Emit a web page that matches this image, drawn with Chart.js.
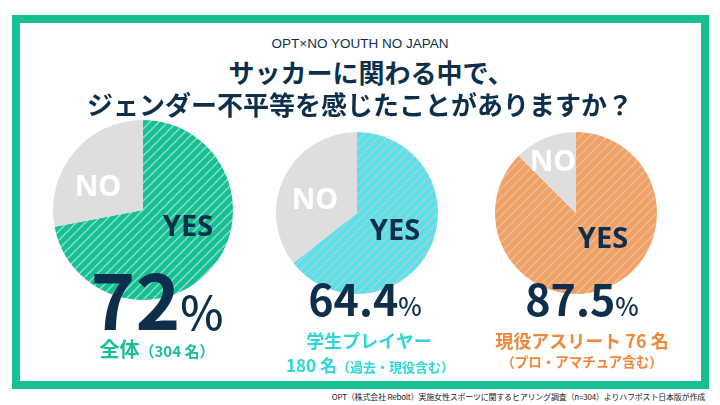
<!DOCTYPE html>
<html lang="ja">
<head>
<meta charset="utf-8">
<script src="https://cdn.jsdelivr.net/npm/chart.js@4.4.1/dist/chart.umd.min.js"></script>
<style>
  html, body { margin: 0; padding: 0; background: #fff; }
  #stage { position: relative; width: 720px; height: 405px; overflow: hidden; background: #fff;
    font-family: "Noto Sans CJK JP", "Noto Sans", sans-serif; color: #0e2f4c; }
  #frame { position: absolute; left: 12px; top: 15px; width: 681px; height: 358px; border: 8px solid #17bf94; }
  .t { position: absolute; white-space: nowrap; line-height: 1; }
  .c { transform: translate(-50%, -50%); }
  canvas { position: absolute; }
  #kicker { left: 360px; top: 44px; font-family: "Liberation Sans Narrow", "Liberation Sans", sans-serif; font-size: 13.5px; color: #0e2f4c; }
  .title { font-size: 26px; font-weight: 700; color: #0e2f4c; }
  .yes { font-size: 29px; font-weight: 700; color: #0e2f4c; font-family: "Noto Sans", "Noto Sans CJK JP", sans-serif; }
  .no { font-size: 29px; font-weight: 700; color: #fff; font-family: "Noto Sans", "Noto Sans CJK JP", sans-serif; }
  .pct { font-weight: 700; color: #0e2f4c; }
  .pct small { font-weight: 500; }
  #foot { right: 15px; top: 393px; font-size: 8px; letter-spacing: -0.2px; color: #222; }
</style>
</head>
<body>
<div id="stage">
  <div id="frame"></div>
  <canvas id="pie0" width="180" height="180" style="left:53px;top:120px"></canvas>
  <canvas id="pie1" width="162" height="162" style="left:276px;top:132px"></canvas>
  <canvas id="pie2" width="162" height="162" style="left:495px;top:132px"></canvas>

  <div class="t c" id="kicker">OPT×NO YOUTH NO JAPAN</div>
  <div class="t c title" style="left:371px;top:72px">サッカーに関わる中で、</div>
  <div class="t c title" style="left:360px;top:104px">ジェンダー不平等を感じたことがありますか？</div>

  <div class="t c yes" style="left:188px;top:224px">YES</div>
  <div class="t c no" style="left:98px;top:184px">NO</div>
  <div class="t c yes" style="left:395px;top:228px">YES</div>
  <div class="t c no" style="left:315px;top:197px">NO</div>
  <div class="t c yes" style="left:603px;top:236px">YES</div>
  <div class="t c no" style="left:553px;top:159px">NO</div>

  <div class="t c pct" id="pct0" style="left:157px;top:297px;font-size:76px"></div>
  <div class="t c pct" id="pct1" style="left:365px;top:297px;font-size:43px"></div>
  <div class="t c pct" id="pct2" style="left:582px;top:297px;font-size:43px"></div>

  <div class="t c" style="left:157px;top:349px;color:#17bf94;font-weight:700"><span style="font-size:20px">全体</span><span style="font-size:15px">（304 名）</span></div>
  <div class="t c" style="left:369px;top:340px;color:#2fd6d9;font-weight:700;font-size:18px">学生プレイヤー</div>
  <div class="t c" style="left:370px;top:364px;color:#2fd6d9;font-weight:700"><span style="font-size:17px">180 名</span><span style="font-size:13px">（過去・現役含む）</span></div>
  <div class="t c" style="left:582px;top:340px;color:#f0873a;font-weight:700;font-size:18px">現役アスリート 76 名</div>
  <div class="t c" style="left:582px;top:362px;color:#f0873a;font-weight:700;font-size:13.5px">（プロ・アマチュア含む）</div>

  <div class="t" id="foot">OPT（株式会社 Rebolt）実施女性スポーツに関するヒアリング調査（n=304）よりハフポスト日本版が作成</div>
</div>
<script>
// survey result: "YES" share per group (%), NO is the rest
const groups = ['全体', '学生プレイヤー', '現役アスリート'];
const answers = ['YES', 'NO'];
const yesShare = [72, 64.4, 87.5];
const noShare = [28, 35.6, 12.5];
const pctSuffix = '%';

const baseColors = ['#17bf94', '#57e3e3', '#f3a066'];
const stripeColors = ['#8fe0c8', '#b6c6ea', '#e8c09a'];
const noColor = '#dedede';

// diagonal hatching like the original
function hatch(base, line) {
  const s = 9;
  const c = document.createElement('canvas');
  c.width = s; c.height = s;
  const g = c.getContext('2d');
  g.fillStyle = base;
  g.fillRect(0, 0, s, s);
  g.strokeStyle = line;
  g.lineWidth = 1.4;
  g.beginPath();
  g.moveTo(0, s); g.lineTo(s, 0);
  g.moveTo(-s / 2, s / 2); g.lineTo(s / 2, -s / 2);
  g.moveTo(s / 2, s * 1.5); g.lineTo(s * 1.5, s / 2);
  g.stroke();
  return g.createPattern(c, 'repeat');
}

groups.forEach((name, i) => {
  const ctx = document.getElementById('pie' + i).getContext('2d');
  new Chart(ctx, {
    type: 'pie',
    data: {
      labels: answers,
      datasets: [{
        label: name,
        data: [yesShare[i], noShare[i]],
        backgroundColor: [hatch(baseColors[i], stripeColors[i]), noColor],
        borderWidth: 0,
        offset: 0,
        hoverOffset: 0,
      }],
    },
    options: {
      responsive: false,
      animation: false,
      events: [],
      layout: { padding: 0 },
      plugins: {
        legend: { display: false },
        tooltip: { enabled: false },
      },
    },
  });

  const pctSmall = i === 0 ? 46 : 25;
  document.getElementById('pct' + i).innerHTML =
    yesShare[i] + '<small style="font-size:' + pctSmall + 'px">' + pctSuffix + '</small>';
});
</script>
</body>
</html>
